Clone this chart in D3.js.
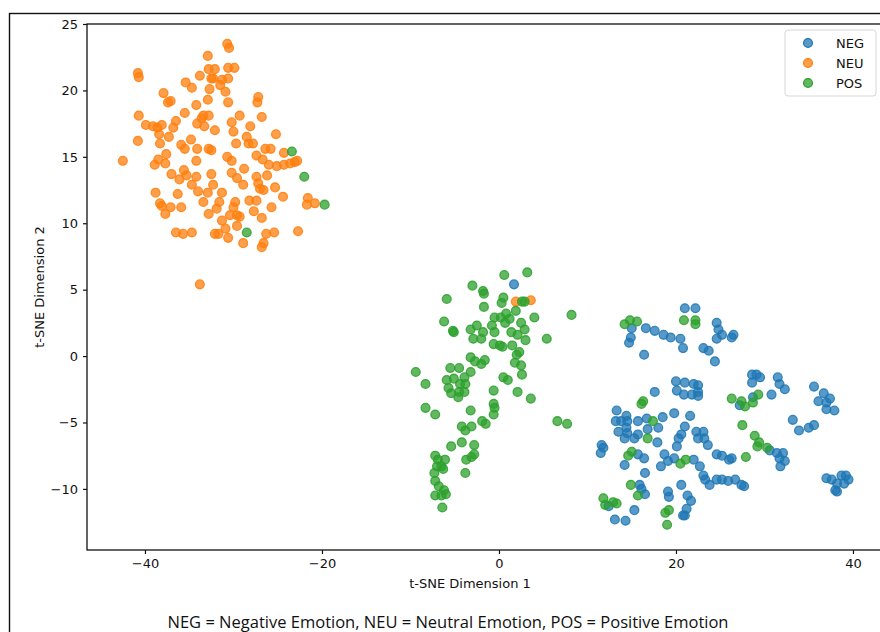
<!DOCTYPE html>
<html>
<head>
<meta charset="utf-8">
<script src="https://cdn.jsdelivr.net/npm/d3@7"></script>
<style>
  body { margin: 0; background: #fff; }
  .tick text { font-family: "DejaVu Sans", sans-serif; font-size: 13px; fill: #111; }
  .legend { font-family: "DejaVu Sans", sans-serif; font-size: 13px; fill: #111; }
  .caption { font-family: "Open Sans", sans-serif; font-size: 16.5px; fill: #111; }
</style>
</head>
<body>
<div id="chart"></div>
<script>
// t-SNE points, [dim1, dim2]
var neg = [[1.7,5.4],
  [21.0,3.6],[22.2,3.6],[15.0,2.1],[16.6,2.1],[17.6,1.9],[18.6,1.6],[19.4,1.4],[20.5,1.3],[20.8,0.6],[14.9,1.4],[14.7,1.0],
  [24.6,2.5],[24.8,2.0],[25.2,1.6],[24.6,1.3],[26.5,1.6],[26.3,1.4],[23.1,0.6],[23.7,0.4],[24.4,-0.4],[16.4,0.1],
  [20.0,-1.9],[21.0,-2.0],[22.0,-2.1],[22.5,-2.2],[20.1,-2.6],[20.9,-2.9],[21.8,-2.9],[22.5,-2.7],[22.5,-3.0],[17.6,-2.7],
  [13.3,-4.1],[14.4,-4.5],[13.2,-4.9],[13.8,-4.9],[14.5,-4.9],[15.7,-4.9],[16.7,-4.7],[18.5,-4.6],[19.8,-4.3],[21.6,-4.5],
  [13.5,-5.7],[14.4,-5.4],[14.5,-5.8],[15.7,-5.9],[16.8,-5.5],[18.0,-5.4],[21.0,-5.3],[20.6,-5.9],[20.3,-6.2],[22.3,-5.7],
  [23.1,-5.7],[22.5,-6.2],[23.2,-6.2],[23.6,-6.7],[14.2,-6.2],[15.3,-6.2],[17.9,-6.5],[20.1,-6.8],[11.6,-6.7],[11.8,-6.9],
  [11.5,-7.3],[15.7,-7.4],[16.4,-7.7],[18.7,-7.4],[19.8,-7.7],[24.6,-7.4],[25.2,-7.5],[14.2,-8.2],[18.3,-8.3],[19.1,-7.9],
  [22.0,-7.8],[22.7,-8.3],[23.1,-9.0],[23.3,-9.3],[23.8,-9.7],[16.5,-8.8],[24.6,-9.3],[25.2,-9.3],[15.9,-9.7],[16.1,-10.0],
  [16.5,-10.4],[19.1,-10.2],[19.2,-10.6],[20.6,-9.7],[21.3,-10.5],[21.7,-10.9],[21.2,-11.5],[21.0,-12.0],[20.8,-12.0],
  [12.4,-11.3],[15.3,-11.6],[13.1,-12.3],[14.3,-12.4],
  [28.6,-1.4],[29.1,-1.4],[29.5,-1.6],[28.6,-2.0],[31.5,-1.6],[31.7,-2.1],[32.3,-2.5],[30.8,-2.9],[35.6,-2.3],[36.7,-2.8],
  [37.4,-3.2],[36.1,-3.4],[37.0,-3.5],[37.0,-4.0],[37.9,-4.1],[27.2,-3.7],[28.7,-3.1],[33.2,-4.8],[33.9,-5.6],[35.0,-5.4],
  [35.6,-5.2],[30.6,-7.1],[31.4,-7.3],[32.1,-7.3],[31.7,-7.7],[32.3,-7.9],[31.8,-8.3],[26.0,-7.8],[26.3,-7.7],[25.9,-9.4],
  [26.7,-9.3],[27.4,-9.7],[27.7,-9.8],[37.0,-9.2],[37.6,-9.3],[38.2,-9.6],[38.7,-9.0],[39.2,-9.0],[39.5,-9.3],[39.0,-9.6],
  [38.0,-10.1],[38.2,-10.2]]

var neu = [[-32.9,22.6],[-40.8,21.3],[-40.7,21.0],[-32.8,21.6],[-33.8,21.1],[-32.5,20.9],[-35.4,20.6],[-34.7,20.2],[-32.7,20.1],
  [-37.9,19.8],[-37.4,19.1],[-37.1,19.2],[-32.9,19.3],[-34.2,18.9],[-35.5,18.3],[-40.7,18.1],[-32.8,18.1],[-33.6,17.9],
  [-33.4,18.1],[-36.5,17.7],[-39.9,17.4],[-39.1,17.3],[-38.6,17.2],[-38.1,17.4],[-36.8,17.2],[-34.1,17.5],[-33.3,17.3],
  [-38.4,16.7],[-37.3,16.5],[-40.8,16.2],[-38.3,16.0],[-34.8,16.3],[-35.9,15.9],[-35.5,15.6],[-34.1,15.6],[-32.8,15.6],
  [-32.5,15.5],[-42.5,14.7],[-37.6,15.2],[-38.5,14.8],[-38.9,14.4],[-37.7,14.5],[-34.2,14.7],[-35.6,14.0],[-37.0,13.7],
  [-36.1,13.3],[-35.3,13.6],[-34.2,13.5],[-34.7,12.9],[-34.0,12.4],[-32.5,13.7],[-32.3,12.9],[-38.8,12.3],[-36.3,12.2],
  [-32.9,12.3],[-33.4,11.6],[-38.3,11.5],[-38.1,11.3],[-37.1,11.2],[-35.9,11.2],[-37.7,10.7],[-32.8,10.7],[-36.5,9.3],
  [-35.7,9.2],[-34.7,9.3],[-32.1,9.2],[-33.8,5.4],
  [-30.7,23.5],[-30.5,23.2],[-32.1,21.6],[-30.6,21.7],[-29.9,21.7],[-32.3,20.9],[-31.3,20.8],[-30.6,20.9],[-31.5,20.4],
  [-30.9,19.9],[-30.6,19.1],[-27.2,19.5],[-27.3,19.1],[-29.3,18.1],[-30.2,17.6],[-26.8,18.0],[-28.1,17.3],[-32.1,17.0],
  [-30.0,16.9],[-25.2,16.7],[-28.5,16.5],[-28.3,16.0],[-27.8,16.0],[-29.7,16.0],[-26.4,15.6],[-25.8,15.6],[-24.3,15.3],
  [-27.4,15.1],[-26.7,14.8],[-30.7,15.0],[-30.2,14.7],[-26.0,14.4],[-25.1,14.3],[-24.3,14.4],[-23.6,14.5],[-23.1,14.6],
  [-22.8,14.7],[-28.8,14.1],[-30.2,13.8],[-29.6,13.4],[-28.9,12.9],[-27.4,13.5],[-27.2,13.0],[-27.0,12.6],[-26.6,12.5],
  [-26.2,13.6],[-31.3,12.3],[-25.3,12.7],[-29.8,11.6],[-30.0,11.2],[-31.6,11.6],[-31.9,11.1],[-28.2,11.7],[-27.4,11.7],
  [-24.4,12.0],[-21.6,11.9],[-21.7,11.4],[-20.8,11.5],[-25.7,11.2],[-27.7,10.9],[-30.4,10.6],[-29.6,10.6],[-29.3,10.5],
  [-31.3,10.2],[-30.9,9.6],[-29.6,9.8],[-26.8,10.4],[-31.7,9.2],[-30.6,8.9],[-26.3,9.2],[-25.4,9.3],[-22.7,9.4],
  [-28.9,8.5],[-26.8,8.2],[-26.6,8.5],
  [1.9,4.1],[3.6,4.2]]

var pos = [[-23.4,15.4],[-22.0,13.5],[-19.7,11.4],[-28.5,9.3],
  [0.6,6.1],[3.2,6.3],[-3.0,5.3],[-1.8,4.9],[-1.7,4.7],[-5.9,4.3],[0.5,4.4],[0.3,4.0],[2.6,4.1],[2.9,4.1],[-1.7,3.7],
  [1.9,3.4],[4.0,2.9],[-0.5,2.9],[0.2,2.9],[0.8,3.2],[1.2,2.8],[0.7,2.5],[-6.2,2.6],[-5.2,1.9],[-5.1,1.8],[-3.2,2.0],
  [-2.5,2.3],[-1.8,1.8],[-0.8,2.3],[-0.5,1.8],[2.5,2.5],[2.9,2.0],[1.4,1.8],[2.1,1.6],[-2.9,1.3],[-2.0,1.3],[3.0,1.2],
  [5.4,1.3],[-0.6,0.9],[0.1,0.8],[0.4,0.7],[1.5,0.8],[2.3,0.3],[2.0,0.1],[-3.2,-0.1],[-2.7,-0.4],[-1.6,-0.3],[-2.0,-0.6],
  [1.8,-0.5],[2.5,-0.7],[-9.4,-1.2],[-5.5,-0.9],[-4.5,-0.9],[-3.2,-1.2],[-5.9,-1.8],[-5.1,-1.7],[-3.9,-1.6],[-4.4,-2.1],
  [-3.8,-2.1],[2.6,-1.4],[0.5,-1.6],[1.0,-1.8],[-8.3,-2.1],[-5.7,-2.4],[-5.4,-2.8],[-4.5,-2.7],[-3.9,-2.7],[-4.6,-3.1],
  [-0.6,-2.6],[2.1,-2.7],[3.6,-3.2],[-8.3,-3.9],[-7.2,-4.4],[-3.2,-4.1],[-0.6,-3.6],[-0.5,-3.9],[-0.6,-4.4],[6.6,-4.9],
  [7.7,-5.1],[-4.2,-5.3],[-3.8,-5.6],[-3.1,-5.3],[-1.9,-4.9],[-1.5,-5.1],[-5.4,-6.8],[-4.2,-6.5],[-2.8,-6.7],[-2.8,-7.4],
  [-3.1,-7.6],[-3.7,-7.8],[-7.2,-7.5],[-6.9,-7.8],[-6.1,-7.8],[-6.5,-8.3],[-7.0,-8.3],[-6.3,-8.5],[-7.3,-8.8],[-3.8,-8.8],
  [-7.2,-9.4],[-6.8,-9.8],[-6.2,-10.1],[-6.0,-10.4],[-7.2,-10.5],[-6.5,-10.5],[-6.4,-11.4],[8.2,3.1],
  [20.9,2.7],[22.2,2.7],[22.2,2.4],[14.2,2.4],[14.8,2.7],[15.6,2.6],[16.3,-3.4],[16.1,-3.6],[17.4,-4.9],[16.8,-6.2],
  [15.0,-7.2],[14.6,-7.5],[20.5,-8.1],[21.1,-7.8],[14.9,-9.7],[15.7,-10.5],[11.8,-10.7],[12.9,-11.0],[13.3,-11.1],
  [12.0,-11.2],[18.8,-11.8],[19.2,-11.6],[19.0,-12.7],[26.3,-3.2],[27.4,-3.4],[27.8,-3.8],[28.7,-3.5],[29.3,-2.9],
  [27.5,-5.2],[28.9,-6.0],[29.4,-6.5],[29.2,-6.8],[30.3,-6.9],[27.9,-7.6]]

var groups = ["NEG", "NEU", "POS"]
var colors = ["#1f77b4", "#ff7f0e", "#2ca02c"]
var xTicks = [-40, -20, 0, 20, 40]
var yTicks = [-10, -5, 0, 5, 10, 15, 20, 25]

const W = 880, H = 632
const margin = {top: 24, left: 87, bottom: 82}

var svg = d3.select("#chart").append("svg")
  .attr("width", W)
  .attr("height", H)

// outer frame of the figure (runs off the right / bottom)
svg.append("rect")
  .attr("x", 9.5).attr("y", 13.5)
  .attr("width", 900).attr("height", 700)
  .attr("fill", "none")
  .attr("stroke", "#111")
  .attr("stroke-width", 1.4)

var x = d3.scaleLinear().domain([-46.55, 43.5]).range([margin.left, margin.left + 90.05 * 8.85])
var y = d3.scaleLinear().domain([-14.6, 25]).range([H - margin.bottom, margin.top])

// scatter, one layer per class
var sets = [neg, neu, pos]
sets.forEach(function(pts, i) {
  svg.append("g").selectAll("circle")
    .data(pts)
    .enter()
    .append("circle")
    .attr("cx", function(d) { return x(d[0]) })
    .attr("cy", function(d) { return y(d[1]) })
    .attr("r", 4.4)
    .attr("fill", colors[i])
    .attr("fill-opacity", 0.75)
    .attr("stroke", colors[i])
    .attr("stroke-opacity", 0.85)
    .attr("stroke-width", 1.3)
})

// spines
var x0 = x.range()[0], x1 = x.range()[1]
var y0 = y.range()[0], y1 = y.range()[1]
svg.append("rect")
  .attr("x", x0).attr("y", y1)
  .attr("width", x1 - x0).attr("height", y0 - y1)
  .attr("fill", "none")
  .attr("stroke", "#111")
  .attr("stroke-width", 1.3)

// axes
var fmt = function(d) { return d < 0 ? "\u2212" + Math.abs(d) : d }
svg.append("g")
  .attr("transform", "translate(0," + y0 + ")")
  .call(d3.axisBottom(x).tickValues(xTicks).tickSize(4).tickPadding(5).tickFormat(fmt))
svg.append("g")
  .attr("transform", "translate(" + x0 + ",0)")
  .call(d3.axisLeft(y).tickValues(yTicks).tickSize(4).tickPadding(5).tickFormat(fmt))
svg.selectAll(".domain").remove()
svg.selectAll(".tick line").attr("stroke", "#111").attr("stroke-width", 1.2)

// axis titles
svg.append("text")
  .attr("class", "legend")
  .attr("x", 470).attr("y", 588)
  .attr("text-anchor", "middle")
  .text("t-SNE Dimension 1")

svg.append("text")
  .attr("class", "legend")
  .attr("transform", "translate(44," + ((y0 + y1) / 2) + ") rotate(-90)")
  .attr("text-anchor", "middle")
  .text("t-SNE Dimension 2")

// legend box
var lg = svg.append("g").attr("transform", "translate(785,30)")
lg.append("rect")
  .attr("width", 91).attr("height", 66).attr("rx", 3)
  .attr("fill", "#fff").attr("fill-opacity", 0.85)
  .attr("stroke", "#d6d6d6")
groups.forEach(function(g, i) {
  lg.append("circle")
    .attr("cx", 23).attr("cy", 13 + i * 20)
    .attr("r", 4.4)
    .attr("fill", colors[i]).attr("fill-opacity", 0.75)
    .attr("stroke", colors[i]).attr("stroke-width", 1.3)
  lg.append("text")
    .attr("class", "legend")
    .attr("x", 51).attr("y", 13 + i * 20 + 4.5)
    .text(g)
})

// caption under the figure
svg.append("text")
  .attr("class", "caption")
  .attr("x", 448).attr("y", 628)
  .attr("text-anchor", "middle")
  .text("NEG = Negative Emotion, NEU = Neutral Emotion, POS = Positive Emotion")
</script>
</body>
</html>
